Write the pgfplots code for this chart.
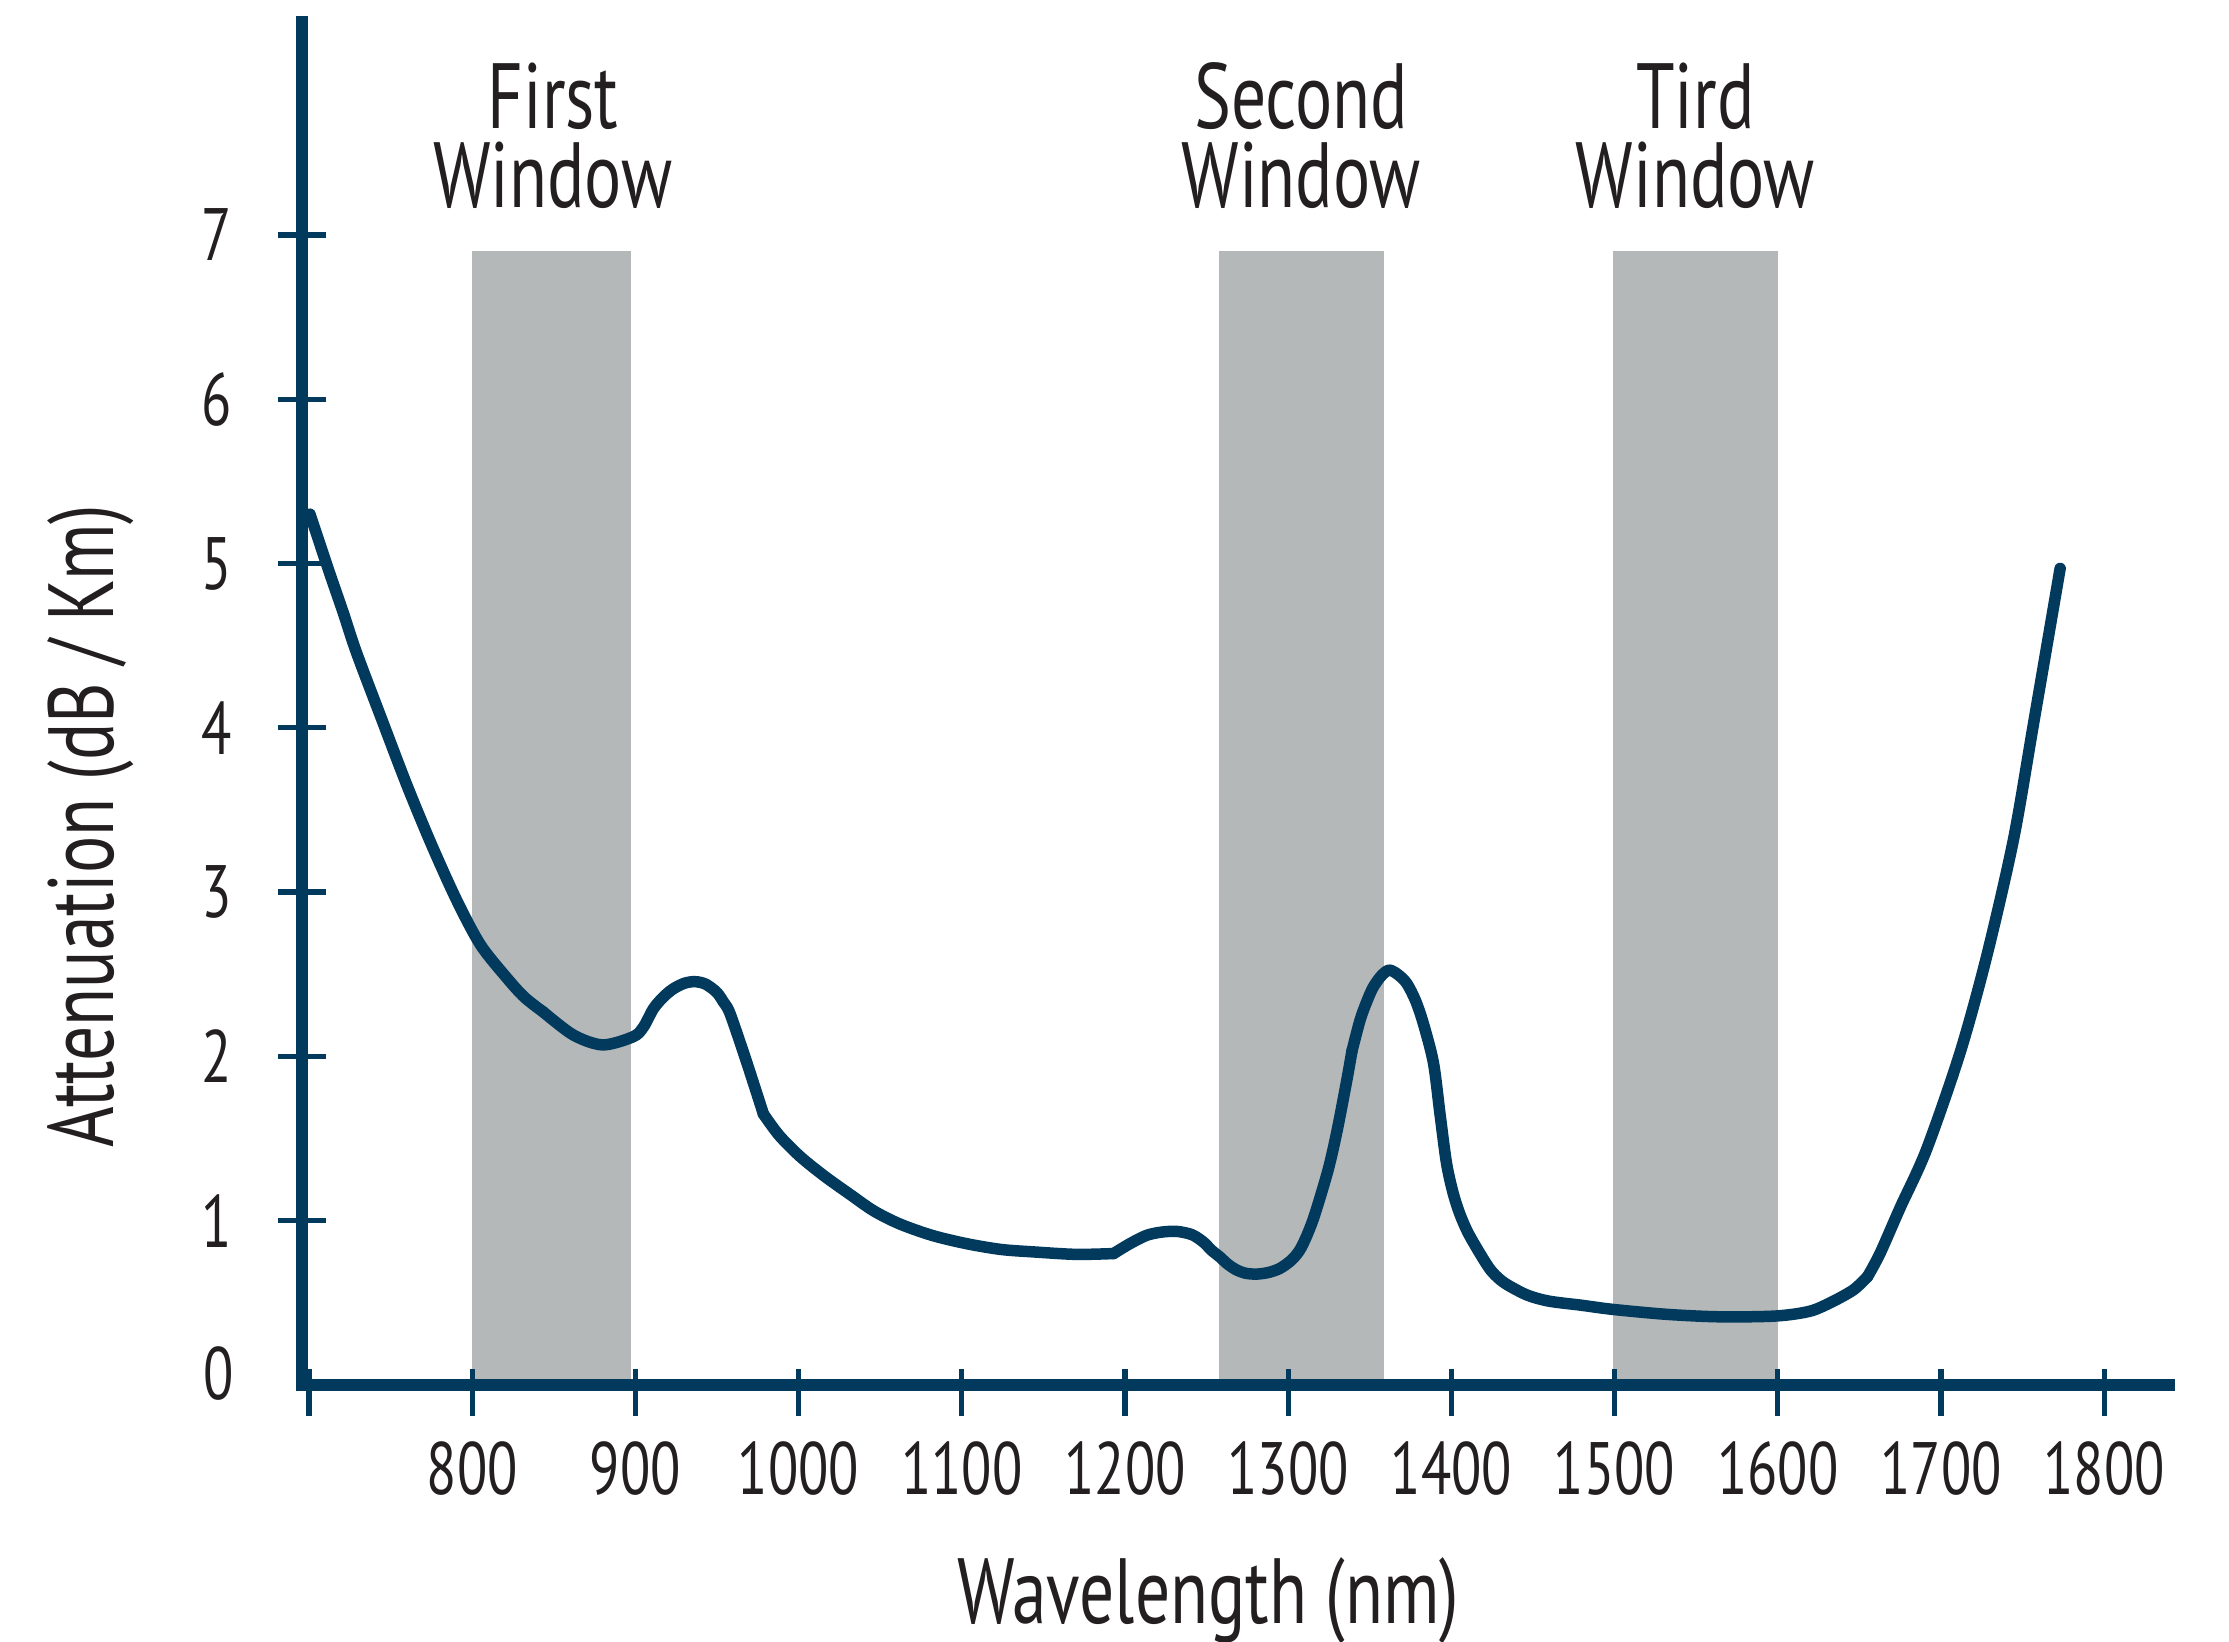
\documentclass[border=0pt]{standalone}
\usepackage{fontspec}
\setmainfont{PT Sans}[FakeStretch=0.75]
\usepackage{pgfplots}
\pgfplotsset{compat=1.18}
\definecolor{navy}{HTML}{023A5E}
\definecolor{wgray}{HTML}{B4B8B9}
\definecolor{txt}{HTML}{231F20}
\begin{document}
\begin{tikzpicture}
\begin{axis}[
  at={(0,0)}, anchor=south west,
  x=0.3264bp, y=32.86bp,
  xmin=695.7, xmax=1840, ymin=0, ymax=8.3,
  axis x line=bottom, axis y line=left,
  axis line style={navy, line width=2.3bp, line cap=rect, -},
  axis on top,
  clip=false,
  xtick={700,800,900,1000,1100,1200,1300,1400,1500,1600,1700,1800},
  xticklabels={{},800,900,1000,1100,1200,1300,1400,1500,1600,1700,1800},
  ytick={1,2,3,4,5,6,7},
  yticklabels={1,2,3,4,5,6,7},
  extra y ticks={0}, extra y tick labels={0},
  extra y tick style={major tick length=0pt, yticklabel style={yshift=2.2bp, xshift=-4.4bp}},
  major tick length=9.4bp,
  tick align=center,
  tick style={navy, line width=1.07bp},
  every major x tick/.append style={yshift=-1.5bp},
  /pgf/number format/assume math mode=true,
  every tick label/.append style={font=\fontsize{14.9}{16}\selectfont, text=txt},
  yticklabel style={anchor=east, inner sep=0pt, xshift=-9.1bp},
  xticklabel style={anchor=north, inner sep=0pt, yshift=-6.5bp},
  curve/.style={navy, line width=2.3bp, line join=round, line cap=round, smooth, tension=0.5},
]
\addplot[draw=none, fill=wgray] coordinates {(800,6.9) (897,6.9)} \closedcycle;
\addplot[draw=none, fill=wgray] coordinates {(1257.6,6.9) (1358.7,6.9)} \closedcycle;
\addplot[draw=none, fill=wgray] coordinates {(1499.3,6.9) (1600,6.9)} \closedcycle;
\addplot[curve] coordinates {
(700.6,5.30) (712,4.96) (721,4.70) (729,4.46) (745,4.04) (760,3.65) (775,3.29) (790.5,2.95)
(805,2.68) (821,2.48) (832,2.36) (843.6,2.27)};
\addplot[curve] coordinates {
(843.6,2.27) (862,2.13) (880,2.07) (898.7,2.12)
(905,2.18) (911,2.29) (917,2.36) (923,2.41) (930,2.445) (936.5,2.455) (943,2.44)
(949.8,2.39) (954,2.33) (958,2.26) (968,1.97) (978.4,1.65)};
\addplot[curve] coordinates {
(978.4,1.65) (988,1.52) (1001,1.39)
(1016,1.27) (1031.5,1.16) (1046,1.06) (1062,0.98) (1082,0.91) (1103,0.86)
(1124,0.825) (1144,0.81) (1170,0.795) (1193,0.80)};
\addplot[curve] coordinates {
(1193,0.80) (1203,0.86) (1213,0.91)
(1222,0.93) (1231.6,0.935) (1241,0.915) (1248,0.87) (1253,0.82) (1258,0.78)
(1263,0.735) (1268.4,0.70) (1274,0.68) (1280.7,0.675) (1288,0.685) (1295,0.71)
(1302,0.76) (1307,0.82) (1311,0.90) (1315,1.00) (1319.5,1.14) (1325,1.33)
(1330,1.55) (1336,1.86) (1339,2.03)};
\addplot[curve] coordinates {
(1339,2.03) (1344,2.22) (1348,2.33) (1352,2.42)
(1357,2.49) (1361.8,2.525) (1367,2.50) (1372.6,2.445) (1378,2.34) (1382.8,2.20)
(1389,1.96) (1393,1.65) (1397,1.35) (1401,1.17) (1405,1.045) (1410,0.93)
(1417.5,0.80) (1424,0.70) (1430,0.64) (1436,0.60) (1447,0.545) (1460,0.51)
(1480,0.485) (1499,0.46) (1532,0.43) (1564.6,0.415) (1599,0.42) (1620,0.45)
(1634,0.51) (1645,0.57) (1650,0.61) (1655,0.66)};
\addplot[curve] coordinates {
(1655,0.66) (1662.6,0.80) (1675,1.08)
(1691,1.43) (1711.6,2.02) (1728,2.61) (1744.4,3.32) (1756.6,4.02) (1773,4.97)};
\node[font=\fontsize{18.6}{16}\selectfont, text=txt, anchor=base] at (axis cs:1251,-1.449) {Wavelength (nm)};
\node[font=\fontsize{18.6}{16}\selectfont, text=txt, anchor=base, rotate=90] at (axis cs:580.1,3.402) {Attenuation (dB / Km)};
\node[font=\fontsize{18.6}{16}\selectfont, text=txt, align=center, anchor=south, inner sep=0pt] at (axis cs:849.5,7.152) {First\\Window};
\node[font=\fontsize{18.6}{16}\selectfont, text=txt, align=center, anchor=south, inner sep=0pt] at (axis cs:1308,7.152) {Second\\Window};
\node[font=\fontsize{18.6}{16}\selectfont, text=txt, align=center, anchor=south, inner sep=0pt] at (axis cs:1549.5,7.152) {Tird\\Window};
\end{axis}
\pgfresetboundingbox
\useasboundingbox (-60.4bp,-51.4bp) rectangle (385.4bp,277bp);
\end{tikzpicture}
\end{document}
